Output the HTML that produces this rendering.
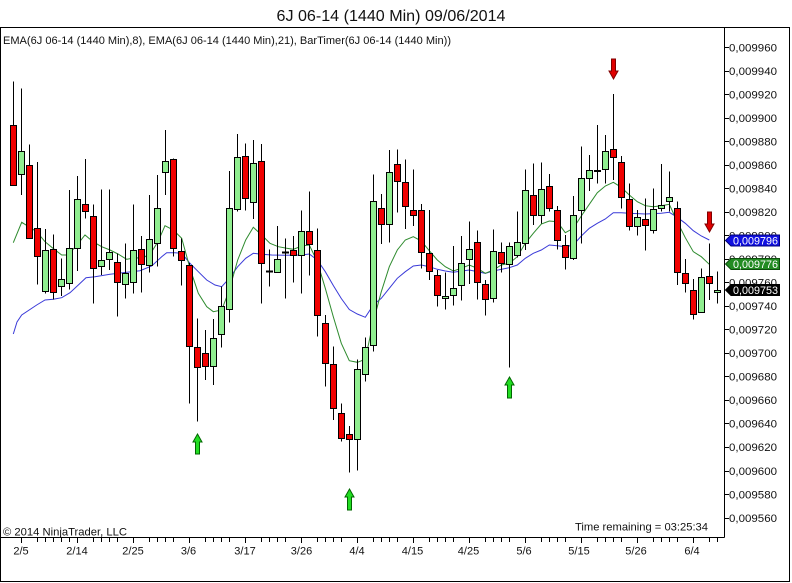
<!DOCTYPE html>
<html><head><meta charset="utf-8"><style>
html,body{margin:0;padding:0;background:#fff;}
svg{display:block;font-family:"Liberation Sans",Arial,sans-serif;}
.w{stroke:#000;stroke-width:1;}
.r{fill:#f00000;stroke:#000;stroke-width:1;}
.g{fill:#90ee90;stroke:#000;stroke-width:1;}
.t{font-size:11px;fill:#111;}
</style></head><body>
<svg width="792" height="583" viewBox="0 0 792 583" xmlns="http://www.w3.org/2000/svg">
<rect x="0" y="0" width="792" height="583" fill="#fff"/>
<text x="276.5" y="21" font-size="16" fill="#111" textLength="229" lengthAdjust="spacingAndGlyphs">6J 06-14 (1440 Min)  09/06/2014</text>
<!-- frame -->
<rect x="0.5" y="27.5" width="789" height="554" fill="none" stroke="#000"/>
<line x1="724.5" y1="27.5" x2="724.5" y2="537.5" stroke="#000"/>
<line x1="0.5" y1="537.5" x2="724.5" y2="537.5" stroke="#000"/>
<text class="t" x="3" y="44" textLength="448" lengthAdjust="spacingAndGlyphs">EMA(6J 06-14 (1440 Min),8), EMA(6J 06-14 (1440 Min),21), BarTimer(6J 06-14 (1440 Min))</text>
<text class="t" x="3" y="535.5" textLength="124" lengthAdjust="spacingAndGlyphs">© 2014 NinjaTrader, LLC</text>
<text class="t" x="575" y="530.5" textLength="133" lengthAdjust="spacingAndGlyphs">Time remaining = 03:25:34</text>

<!-- right axis ticks & labels -->
<g stroke="#000">
<line x1="724" x2="729" y1="47.5" y2="47.5"/><line x1="724" x2="729" y1="71.5" y2="71.5"/><line x1="724" x2="729" y1="94.5" y2="94.5"/><line x1="724" x2="729" y1="118.5" y2="118.5"/><line x1="724" x2="729" y1="141.5" y2="141.5"/><line x1="724" x2="729" y1="165.5" y2="165.5"/><line x1="724" x2="729" y1="188.5" y2="188.5"/><line x1="724" x2="729" y1="212.5" y2="212.5"/><line x1="724" x2="729" y1="235.5" y2="235.5"/><line x1="724" x2="729" y1="259.5" y2="259.5"/><line x1="724" x2="729" y1="282.5" y2="282.5"/><line x1="724" x2="729" y1="306.5" y2="306.5"/><line x1="724" x2="729" y1="329.5" y2="329.5"/><line x1="724" x2="729" y1="353.5" y2="353.5"/><line x1="724" x2="729" y1="376.5" y2="376.5"/><line x1="724" x2="729" y1="400.5" y2="400.5"/><line x1="724" x2="729" y1="423.5" y2="423.5"/><line x1="724" x2="729" y1="447.5" y2="447.5"/><line x1="724" x2="729" y1="471.5" y2="471.5"/><line x1="724" x2="729" y1="494.5" y2="494.5"/><line x1="724" x2="729" y1="518.5" y2="518.5"/>
</g>
<g class="t">
<text x="729" y="51.5" textLength="48" lengthAdjust="spacingAndGlyphs">0,009960</text>
<text x="729" y="75" textLength="48" lengthAdjust="spacingAndGlyphs">0,009940</text>
<text x="729" y="98.5" textLength="48" lengthAdjust="spacingAndGlyphs">0,009920</text>
<text x="729" y="122" textLength="48" lengthAdjust="spacingAndGlyphs">0,009900</text>
<text x="729" y="145.5" textLength="48" lengthAdjust="spacingAndGlyphs">0,009880</text>
<text x="729" y="169" textLength="48" lengthAdjust="spacingAndGlyphs">0,009860</text>
<text x="729" y="192.5" textLength="48" lengthAdjust="spacingAndGlyphs">0,009840</text>
<text x="729" y="216" textLength="48" lengthAdjust="spacingAndGlyphs">0,009820</text>
<text x="729" y="239.5" textLength="48" lengthAdjust="spacingAndGlyphs">0,009800</text>
<text x="729" y="263" textLength="48" lengthAdjust="spacingAndGlyphs">0,009780</text>
<text x="729" y="286.5" textLength="48" lengthAdjust="spacingAndGlyphs">0,009760</text>
<text x="729" y="310" textLength="48" lengthAdjust="spacingAndGlyphs">0,009740</text>
<text x="729" y="333.5" textLength="48" lengthAdjust="spacingAndGlyphs">0,009720</text>
<text x="729" y="357" textLength="48" lengthAdjust="spacingAndGlyphs">0,009700</text>
<text x="729" y="380.5" textLength="48" lengthAdjust="spacingAndGlyphs">0,009680</text>
<text x="729" y="404" textLength="48" lengthAdjust="spacingAndGlyphs">0,009660</text>
<text x="729" y="427.5" textLength="48" lengthAdjust="spacingAndGlyphs">0,009640</text>
<text x="729" y="451" textLength="48" lengthAdjust="spacingAndGlyphs">0,009620</text>
<text x="729" y="475" textLength="48" lengthAdjust="spacingAndGlyphs">0,009600</text>
<text x="729" y="498.5" textLength="48" lengthAdjust="spacingAndGlyphs">0,009580</text>
<text x="729" y="522" textLength="48" lengthAdjust="spacingAndGlyphs">0,009560</text>
</g>

<!-- x axis ticks -->
<g stroke="#000">
<line x1="21.5" x2="21.5" y1="537" y2="543"/><line x1="37.5" x2="37.5" y1="537" y2="542"/><line x1="45.5" x2="45.5" y1="537" y2="542"/><line x1="53.5" x2="53.5" y1="537" y2="542"/><line x1="61.5" x2="61.5" y1="537" y2="542"/><line x1="69.5" x2="69.5" y1="537" y2="542"/>
<line x1="77.5" x2="77.5" y1="537" y2="543"/><line x1="93.5" x2="93.5" y1="537" y2="542"/><line x1="101.5" x2="101.5" y1="537" y2="542"/><line x1="109.5" x2="109.5" y1="537" y2="542"/><line x1="117.5" x2="117.5" y1="537" y2="542"/>
<line x1="133.5" x2="133.5" y1="537" y2="543"/><line x1="149.5" x2="149.5" y1="537" y2="542"/><line x1="157.5" x2="157.5" y1="537" y2="542"/><line x1="165.5" x2="165.5" y1="537" y2="542"/><line x1="173.5" x2="173.5" y1="537" y2="542"/>
<line x1="189.5" x2="189.5" y1="537" y2="543"/><line x1="205.5" x2="205.5" y1="537" y2="542"/><line x1="213.5" x2="213.5" y1="537" y2="542"/><line x1="221.5" x2="221.5" y1="537" y2="542"/><line x1="229.5" x2="229.5" y1="537" y2="542"/>
<line x1="245.5" x2="245.5" y1="537" y2="543"/><line x1="261.5" x2="261.5" y1="537" y2="542"/><line x1="269.5" x2="269.5" y1="537" y2="542"/><line x1="277.5" x2="277.5" y1="537" y2="542"/><line x1="285.5" x2="285.5" y1="537" y2="542"/>
<line x1="301.5" x2="301.5" y1="537" y2="543"/><line x1="317.5" x2="317.5" y1="537" y2="542"/><line x1="325.5" x2="325.5" y1="537" y2="542"/><line x1="333.5" x2="333.5" y1="537" y2="542"/><line x1="341.5" x2="341.5" y1="537" y2="542"/>
<line x1="357.5" x2="357.5" y1="537" y2="543"/><line x1="373.5" x2="373.5" y1="537" y2="542"/><line x1="381.5" x2="381.5" y1="537" y2="542"/><line x1="389.5" x2="389.5" y1="537" y2="542"/><line x1="397.5" x2="397.5" y1="537" y2="542"/>
<line x1="413.5" x2="413.5" y1="537" y2="543"/><line x1="429.5" x2="429.5" y1="537" y2="542"/><line x1="437.5" x2="437.5" y1="537" y2="542"/><line x1="445.5" x2="445.5" y1="537" y2="542"/><line x1="453.5" x2="453.5" y1="537" y2="542"/>
<line x1="469.5" x2="469.5" y1="537" y2="543"/><line x1="485.5" x2="485.5" y1="537" y2="542"/><line x1="493.5" x2="493.5" y1="537" y2="542"/><line x1="501.5" x2="501.5" y1="537" y2="542"/><line x1="509.5" x2="509.5" y1="537" y2="542"/>
<line x1="525.5" x2="525.5" y1="537" y2="543"/><line x1="541.5" x2="541.5" y1="537" y2="542"/><line x1="549.5" x2="549.5" y1="537" y2="542"/><line x1="557.5" x2="557.5" y1="537" y2="542"/><line x1="565.5" x2="565.5" y1="537" y2="542"/>
<line x1="581.5" x2="581.5" y1="537" y2="543"/><line x1="597.5" x2="597.5" y1="537" y2="542"/><line x1="605.5" x2="605.5" y1="537" y2="542"/><line x1="613.5" x2="613.5" y1="537" y2="542"/><line x1="621.5" x2="621.5" y1="537" y2="542"/>
<line x1="637.5" x2="637.5" y1="537" y2="543"/><line x1="653.5" x2="653.5" y1="537" y2="542"/><line x1="661.5" x2="661.5" y1="537" y2="542"/><line x1="669.5" x2="669.5" y1="537" y2="542"/><line x1="677.5" x2="677.5" y1="537" y2="542"/>
<line x1="693.5" x2="693.5" y1="537" y2="543"/><line x1="709.5" x2="709.5" y1="537" y2="542"/><line x1="717.5" x2="717.5" y1="537" y2="542"/>
</g>
<g class="t" text-anchor="middle">
<text x="21" y="554.5">2/5</text><text x="77" y="554.5">2/14</text><text x="133" y="554.5">2/25</text><text x="188.5" y="554.5">3/6</text><text x="245" y="554.5">3/17</text><text x="301.5" y="554.5">3/26</text><text x="357" y="554.5">4/4</text><text x="412.5" y="554.5">4/15</text><text x="468.5" y="554.5">4/25</text><text x="524" y="554.5">5/6</text><text x="579" y="554.5">5/15</text><text x="636" y="554.5">5/26</text><text x="692" y="554.5">6/4</text>
</g>

<!-- EMA lines -->
<polyline fill="none" stroke="#3a3ad8" stroke-width="1" points="13.3,334 17,322 21.7,315 36.7,305 45,300 53.3,299.3 61.7,297.7 70,292.7 78.3,285 86,277.7 95,276.7 110,274.3 126.7,272.3 140,270.7 151.7,266 161.7,256.7 166.7,252.7 175,252.7 181.7,253.3 190,263.3 198.3,271.7 206.7,280 215,285 221.7,286.7 229.3,278.3 237.7,266.7 245.7,258.3 253.3,253.3 261.7,254.3 271.7,255 285,255.3 301.7,255 309.3,254 317.3,260 325.3,271.7 333.3,285.5 341.3,298.5 349.3,309.5 357.3,314 365.3,317.3 373.3,305 381.3,298.3 389.3,288.3 397.3,278.3 405.3,271.7 413.3,266 421.3,265 429.3,266.7 437.3,269.3 445.3,271 453.3,272.3 469.3,270 485.3,273.3 493.3,271 509.3,267.7 517.3,265 525.3,258.3 533.3,253.3 541.3,250 549.3,245 557.3,245.7 565.3,246.7 573.3,245 581.3,236 589.3,228.3 597.3,223.3 605.3,219 613.3,212.7 621.3,212.7 629.3,213.3 645.3,214 661.3,213.3 669.3,212.3 677.3,217.3 685.3,223.3 693.3,230.7 701.3,236 709.3,240"/>
<polyline fill="none" stroke="#2e8b2e" stroke-width="1" points="13.3,242.7 21.7,222.3 36.7,231.7 45,241.7 53,248.3 61.7,255 68,255 77,245 85,235 93,241.7 101.7,246.7 110,250 118,254 126.7,259.3 135,257.7 143,258.3 151.7,251.7 158,241.7 165,225.7 173.3,230 181.7,238.3 190,268.3 198.3,293.3 206.7,306.7 213.3,311.7 221.7,310 229.3,290 237.7,260 245.7,240 253.3,227.3 261.7,235 270,243.3 278.3,246.7 286.7,248.3 293.3,249.3 301.7,246 309.3,245 317.3,261.7 325.3,288.3 333.3,316.7 341.3,343.3 349.3,360.7 357.3,362.3 365.3,359.3 373.3,321.7 381.3,291.7 389.3,266.7 397.3,250 405.3,240 413.3,236.7 421.3,241 429.3,250.7 437.3,260 445.3,266.7 453.3,271 461.3,268.3 469.3,265 477.3,268.3 485.3,273.3 493.3,270 501.3,265 509.3,263.3 517.3,256.7 525.3,243.3 533.3,233.3 541.3,224 549.3,221 557.3,221.7 565.3,232.7 573.3,228.3 581.3,216 589.3,204.3 597.3,192.7 605.3,186 613.3,182.3 621.3,187.3 629.3,195 637.3,201.7 645.3,205.7 653.3,206.7 661.3,205.7 669.3,204.3 677.3,221.7 685.3,237.7 693.3,251.7 701.3,256.7 709.3,264.3"/>

<!-- candles -->
<g transform="translate(13.5,0)"><line class="w" x1="0" x2="0" y1="81.5" y2="185.5"/><rect class="r" x="-3" y="125.5" width="6" height="60"/></g>
<g transform="translate(21.5,0)"><line class="w" x1="0" x2="0" y1="88.5" y2="195"/><rect class="g" x="-3" y="151.5" width="6" height="23"/></g>
<g transform="translate(29.5,0)"><line class="w" x1="0" x2="0" y1="144.5" y2="239"/><rect class="r" x="-3" y="165.5" width="6" height="73"/></g>
<g transform="translate(37.5,0)"><line class="w" x1="0" x2="0" y1="162" y2="284.5"/><rect class="r" x="-3" y="228.5" width="6" height="28"/></g>
<g transform="translate(45.5,0)"><line class="w" x1="0" x2="0" y1="229" y2="293.5"/><rect class="g" x="-3" y="250.5" width="6" height="41"/></g>
<g transform="translate(53.5,0)"><line class="w" x1="0" x2="0" y1="234.5" y2="299.5"/><rect class="r" x="-3" y="249.5" width="6" height="43"/></g>
<g transform="translate(61.5,0)"><line class="w" x1="0" x2="0" y1="258.5" y2="296"/><rect class="g" x="-3" y="279.5" width="6" height="7"/></g>
<g transform="translate(69.5,0)"><line class="w" x1="0" x2="0" y1="190" y2="289.5"/><rect class="g" x="-3" y="248.5" width="6" height="35"/></g>
<g transform="translate(77.5,0)"><line class="w" x1="0" x2="0" y1="176" y2="271"/><rect class="g" x="-3" y="199.5" width="6" height="49"/></g>
<g transform="translate(85.5,0)"><line class="w" x1="0" x2="0" y1="159" y2="218.5"/><rect class="r" x="-3" y="204.5" width="6" height="7"/></g>
<g transform="translate(93.5,0)"><line class="w" x1="0" x2="0" y1="204.5" y2="303.5"/><rect class="r" x="-3" y="216.5" width="6" height="52"/></g>
<g transform="translate(101.5,0)"><line class="w" x1="0" x2="0" y1="189.5" y2="275"/><rect class="g" x="-3" y="260.5" width="6" height="6"/></g>
<g transform="translate(109.5,0)"><line class="w" x1="0" x2="0" y1="189.5" y2="270"/><rect class="g" x="-3" y="252.5" width="6" height="7"/></g>
<g transform="translate(117.5,0)"><line class="w" x1="0" x2="0" y1="253.5" y2="316.5"/><rect class="r" x="-3" y="262.5" width="6" height="20"/></g>
<g transform="translate(125.5,0)"><line class="w" x1="0" x2="0" y1="243.5" y2="298.5"/><rect class="g" x="-3" y="273.5" width="6" height="11"/></g>
<g transform="translate(133.5,0)"><line class="w" x1="0" x2="0" y1="204.5" y2="293.5"/><rect class="g" x="-3" y="250.5" width="6" height="32"/></g>
<g transform="translate(141.5,0)"><line class="w" x1="0" x2="0" y1="236" y2="292.5"/><rect class="r" x="-3" y="249.5" width="6" height="15"/></g>
<g transform="translate(149.5,0)"><line class="w" x1="0" x2="0" y1="195" y2="272.5"/><rect class="g" x="-3" y="239.5" width="6" height="26"/></g>
<g transform="translate(157.5,0)"><line class="w" x1="0" x2="0" y1="175" y2="266.5"/><rect class="g" x="-3" y="208.5" width="6" height="35"/></g>
<g transform="translate(165.5,0)"><line class="w" x1="0" x2="0" y1="130" y2="195"/><rect class="g" x="-3" y="161.5" width="6" height="11"/></g>
<g transform="translate(173.5,0)"><line class="w" x1="0" x2="0" y1="158.5" y2="256.5"/><rect class="r" x="-3" y="159.5" width="6" height="89"/></g>
<g transform="translate(181.5,0)"><line class="w" x1="0" x2="0" y1="238.5" y2="285.5"/><rect class="r" x="-3" y="251.5" width="6" height="9"/></g>
<g transform="translate(189.5,0)"><line class="w" x1="0" x2="0" y1="263" y2="403.5"/><rect class="r" x="-3" y="265.5" width="6" height="81"/></g>
<g transform="translate(197.5,0)"><line class="w" x1="0" x2="0" y1="318.5" y2="421.5"/><rect class="r" x="-3" y="347.5" width="6" height="20"/></g>
<g transform="translate(205.5,0)"><line class="w" x1="0" x2="0" y1="330" y2="380"/><rect class="r" x="-3" y="353.5" width="6" height="13"/></g>
<g transform="translate(213.5,0)"><line class="w" x1="0" x2="0" y1="319" y2="385"/><rect class="g" x="-3" y="338.5" width="6" height="28"/></g>
<g transform="translate(221.5,0)"><line class="w" x1="0" x2="0" y1="286.5" y2="347.5"/><rect class="g" x="-3" y="306.5" width="6" height="28"/></g>
<g transform="translate(229.5,0)"><line class="w" x1="0" x2="0" y1="171" y2="322.5"/><rect class="g" x="-3" y="208.5" width="6" height="101"/></g>
<g transform="translate(237.5,0)"><line class="w" x1="0" x2="0" y1="134" y2="211.5"/><rect class="g" x="-3" y="157.5" width="6" height="52"/></g>
<g transform="translate(245.5,0)"><line class="w" x1="0" x2="0" y1="143.5" y2="210.5"/><rect class="r" x="-3" y="156.5" width="6" height="42"/></g>
<g transform="translate(253.5,0)"><line class="w" x1="0" x2="0" y1="140" y2="219"/><rect class="g" x="-3" y="163.5" width="6" height="39"/></g>
<g transform="translate(261.5,0)"><line class="w" x1="0" x2="0" y1="144" y2="303.5"/><rect class="r" x="-3" y="161.5" width="6" height="102"/></g>
<g transform="translate(269.5,0)"><line class="w" x1="0" x2="0" y1="249.5" y2="286.5"/><rect x="-3.5" y="270.5" width="7" height="2" fill="#000"/></g>
<g transform="translate(277.5,0)"><line class="w" x1="0" x2="0" y1="226" y2="272.5"/><rect class="g" x="-3" y="259.5" width="6" height="13"/></g>
<g transform="translate(285.5,0)"><line class="w" x1="0" x2="0" y1="238.5" y2="298.5"/><rect x="-3.5" y="251.5" width="7" height="2" fill="#000"/></g>
<g transform="translate(293.5,0)"><line class="w" x1="0" x2="0" y1="236" y2="282.5"/><rect class="r" x="-3" y="250.5" width="6" height="5"/></g>
<g transform="translate(301.5,0)"><line class="w" x1="0" x2="0" y1="210.5" y2="293.5"/><rect class="g" x="-3" y="231.5" width="6" height="24"/></g>
<g transform="translate(309.5,0)"><line class="w" x1="0" x2="0" y1="191.5" y2="275.5"/><rect class="r" x="-3" y="231.5" width="6" height="13"/></g>
<g transform="translate(317.5,0)"><line class="w" x1="0" x2="0" y1="228.5" y2="336.5"/><rect class="r" x="-3" y="250.5" width="6" height="65"/></g>
<g transform="translate(325.5,0)"><line class="w" x1="0" x2="0" y1="315" y2="386.5"/><rect class="r" x="-3" y="323.5" width="6" height="40"/></g>
<g transform="translate(333.5,0)"><line class="w" x1="0" x2="0" y1="346.5" y2="420"/><rect class="r" x="-3" y="364.5" width="6" height="44"/></g>
<g transform="translate(341.5,0)"><line class="w" x1="0" x2="0" y1="403.5" y2="441.5"/><rect class="r" x="-3" y="413.5" width="6" height="25"/></g>
<g transform="translate(349.5,0)"><line class="w" x1="0" x2="0" y1="426" y2="472.5"/><rect class="r" x="-3" y="434.5" width="6" height="5"/></g>
<g transform="translate(357.5,0)"><line class="w" x1="0" x2="0" y1="359.5" y2="470.5"/><rect class="g" x="-3" y="369.5" width="6" height="70"/></g>
<g transform="translate(365.5,0)"><line class="w" x1="0" x2="0" y1="337.5" y2="381.5"/><rect class="g" x="-3" y="347.5" width="6" height="27"/></g>
<g transform="translate(373.5,0)"><line class="w" x1="0" x2="0" y1="174.5" y2="351.5"/><rect class="g" x="-3" y="201.5" width="6" height="144"/></g>
<g transform="translate(381.5,0)"><line class="w" x1="0" x2="0" y1="194" y2="244"/><rect class="r" x="-3" y="208.5" width="6" height="16"/></g>
<g transform="translate(389.5,0)"><line class="w" x1="0" x2="0" y1="150" y2="242.5"/><rect class="g" x="-3" y="172.5" width="6" height="52"/></g>
<g transform="translate(397.5,0)"><line class="w" x1="0" x2="0" y1="149.5" y2="212.5"/><rect class="r" x="-3" y="164.5" width="6" height="17"/></g>
<g transform="translate(405.5,0)"><line class="w" x1="0" x2="0" y1="159.5" y2="229"/><rect class="r" x="-3" y="182.5" width="6" height="24"/></g>
<g transform="translate(413.5,0)"><line class="w" x1="0" x2="0" y1="169.5" y2="226"/><rect class="r" x="-3" y="210.5" width="6" height="5"/></g>
<g transform="translate(421.5,0)"><line class="w" x1="0" x2="0" y1="204" y2="268.5"/><rect class="r" x="-3" y="210.5" width="6" height="42"/></g>
<g transform="translate(429.5,0)"><line class="w" x1="0" x2="0" y1="210" y2="280"/><rect class="r" x="-3" y="253.5" width="6" height="18"/></g>
<g transform="translate(437.5,0)"><line class="w" x1="0" x2="0" y1="270" y2="306.5"/><rect class="r" x="-3" y="275.5" width="6" height="20"/></g>
<g transform="translate(445.5,0)"><line class="w" x1="0" x2="0" y1="272.5" y2="309.5"/><rect class="g" x="-3" y="296.5" width="6" height="2"/></g>
<g transform="translate(453.5,0)"><line class="w" x1="0" x2="0" y1="246" y2="305.5"/><rect class="g" x="-3" y="288.5" width="6" height="7"/></g>
<g transform="translate(461.5,0)"><line class="w" x1="0" x2="0" y1="236" y2="300.5"/><rect class="g" x="-3" y="263.5" width="6" height="22"/></g>
<g transform="translate(469.5,0)"><line class="w" x1="0" x2="0" y1="221.5" y2="284"/><rect class="g" x="-3" y="249.5" width="6" height="10"/></g>
<g transform="translate(477.5,0)"><line class="w" x1="0" x2="0" y1="230.5" y2="299.5"/><rect class="r" x="-3" y="242.5" width="6" height="40"/></g>
<g transform="translate(485.5,0)"><line class="w" x1="0" x2="0" y1="280" y2="315.5"/><rect class="r" x="-3" y="284.5" width="6" height="15"/></g>
<g transform="translate(493.5,0)"><line class="w" x1="0" x2="0" y1="229.5" y2="302.5"/><rect class="g" x="-3" y="251.5" width="6" height="47"/></g>
<g transform="translate(501.5,0)"><line class="w" x1="0" x2="0" y1="242.5" y2="272.5"/><rect class="r" x="-3" y="252.5" width="6" height="11"/></g>
<g transform="translate(509.5,0)"><line class="w" x1="0" x2="0" y1="242.5" y2="367.5"/><rect class="g" x="-3" y="246.5" width="6" height="18"/></g>
<g transform="translate(517.5,0)"><line class="w" x1="0" x2="0" y1="211.5" y2="257.5"/><rect class="g" x="-3" y="242.5" width="6" height="13"/></g>
<g transform="translate(525.5,0)"><line class="w" x1="0" x2="0" y1="169.5" y2="250"/><rect class="g" x="-3" y="190.5" width="6" height="53"/></g>
<g transform="translate(533.5,0)"><line class="w" x1="0" x2="0" y1="163.5" y2="225"/><rect class="r" x="-3" y="195.5" width="6" height="20"/></g>
<g transform="translate(541.5,0)"><line class="w" x1="0" x2="0" y1="162.5" y2="223.5"/><rect class="g" x="-3" y="189.5" width="6" height="26"/></g>
<g transform="translate(549.5,0)"><line class="w" x1="0" x2="0" y1="174" y2="211.5"/><rect class="r" x="-3" y="186.5" width="6" height="22"/></g>
<g transform="translate(557.5,0)"><line class="w" x1="0" x2="0" y1="206" y2="249.5"/><rect class="r" x="-3" y="210.5" width="6" height="30"/></g>
<g transform="translate(565.5,0)"><line class="w" x1="0" x2="0" y1="235" y2="269.5"/><rect class="r" x="-3" y="245.5" width="6" height="12"/></g>
<g transform="translate(573.5,0)"><line class="w" x1="0" x2="0" y1="196" y2="260"/><rect class="g" x="-3" y="215.5" width="6" height="43"/></g>
<g transform="translate(581.5,0)"><line class="w" x1="0" x2="0" y1="146.5" y2="243.5"/><rect class="g" x="-3" y="178.5" width="6" height="32"/></g>
<g transform="translate(589.5,0)"><line class="w" x1="0" x2="0" y1="155" y2="191"/><rect class="g" x="-3" y="170.5" width="6" height="8"/></g>
<g transform="translate(597.5,0)"><line class="w" x1="0" x2="0" y1="125" y2="183.5"/><rect x="-3.5" y="170" width="7" height="2" fill="#000"/></g>
<g transform="translate(605.5,0)"><line class="w" x1="0" x2="0" y1="135" y2="183.5"/><rect class="g" x="-3" y="151.5" width="6" height="18"/></g>
<g transform="translate(613.5,0)"><line class="w" x1="0" x2="0" y1="94" y2="180"/><rect class="r" x="-3" y="149.5" width="6" height="8"/></g>
<g transform="translate(621.5,0)"><line class="w" x1="0" x2="0" y1="156" y2="208.5"/><rect class="r" x="-3" y="162.5" width="6" height="35"/></g>
<g transform="translate(629.5,0)"><line class="w" x1="0" x2="0" y1="183.5" y2="230.5"/><rect class="r" x="-3" y="199.5" width="6" height="27"/></g>
<g transform="translate(637.5,0)"><line class="w" x1="0" x2="0" y1="210" y2="235.5"/><rect class="g" x="-3" y="217.5" width="6" height="9"/></g>
<g transform="translate(645.5,0)"><line class="w" x1="0" x2="0" y1="198.5" y2="250.5"/><rect class="r" x="-3" y="219.5" width="6" height="6"/></g>
<g transform="translate(653.5,0)"><line class="w" x1="0" x2="0" y1="188.5" y2="233.5"/><rect class="g" x="-3" y="209.5" width="6" height="21"/></g>
<g transform="translate(661.5,0)"><line class="w" x1="0" x2="0" y1="164" y2="211.5"/><rect class="g" x="-3" y="205.5" width="6" height="3"/></g>
<g transform="translate(669.5,0)"><line class="w" x1="0" x2="0" y1="171.5" y2="211.5"/><rect class="g" x="-3" y="197.5" width="6" height="4"/></g>
<g transform="translate(677.5,0)"><line class="w" x1="0" x2="0" y1="201.5" y2="285"/><rect class="r" x="-3" y="208.5" width="6" height="64"/></g>
<g transform="translate(685.5,0)"><line class="w" x1="0" x2="0" y1="259" y2="292.5"/><rect class="r" x="-3" y="273.5" width="6" height="10"/></g>
<g transform="translate(693.5,0)"><line class="w" x1="0" x2="0" y1="279" y2="319.5"/><rect class="r" x="-3" y="290.5" width="6" height="24"/></g>
<g transform="translate(701.5,0)"><line class="w" x1="0" x2="0" y1="268.5" y2="312.5"/><rect class="g" x="-3" y="277.5" width="6" height="35"/></g>
<g transform="translate(709.5,0)"><line class="w" x1="0" x2="0" y1="243.5" y2="300"/><rect class="r" x="-3" y="276.5" width="6" height="7"/></g>
<g transform="translate(717.5,0)"><line class="w" x1="0" x2="0" y1="271.5" y2="303.5"/><rect class="g" x="-3" y="290.5" width="6" height="2"/></g>

<!-- arrows -->
<g fill="#22dd22" stroke="#006600" stroke-width="1">
<polygon points="197.5,434 202,442 199.5,442 199.5,454 195.5,454 195.5,442 193,442"/>
<polygon points="349.5,489 354,497 351.5,497 351.5,510 347.5,510 347.5,497 345,497"/>
<polygon points="509.5,377 514,385 511.5,385 511.5,398 507.5,398 507.5,385 505,385"/>
</g>
<g fill="#e00000" stroke="#800000" stroke-width="1">
<polygon points="613.5,79 618,71 615.5,71 615.5,59 611.5,59 611.5,71 609,71"/>
<polygon points="709.5,232 714,224 711.5,224 711.5,212 707.5,212 707.5,224 705,224"/>
</g>

<!-- price markers -->
<polygon points="725.5,240.5 731,235 779.5,235 779.5,246 731,246" fill="#1010e0" stroke="#00007a"/>
<text x="733" y="244.5" font-size="11" fill="#fff" textLength="45" lengthAdjust="spacingAndGlyphs">0,009796</text>
<polygon points="725.5,264 731,258.5 779.5,258.5 779.5,269.5 731,269.5" fill="#228b22" stroke="#0d4d0d"/>
<text x="733" y="268" font-size="11" fill="#fff" textLength="45" lengthAdjust="spacingAndGlyphs">0,009776</text>
<polygon points="725.5,290 731,284.5 779.5,284.5 779.5,295.5 731,295.5" fill="#000" stroke="#000"/>
<text x="733" y="294" font-size="11" fill="#fff" textLength="45" lengthAdjust="spacingAndGlyphs">0,009753</text>
</svg>
</body></html>
